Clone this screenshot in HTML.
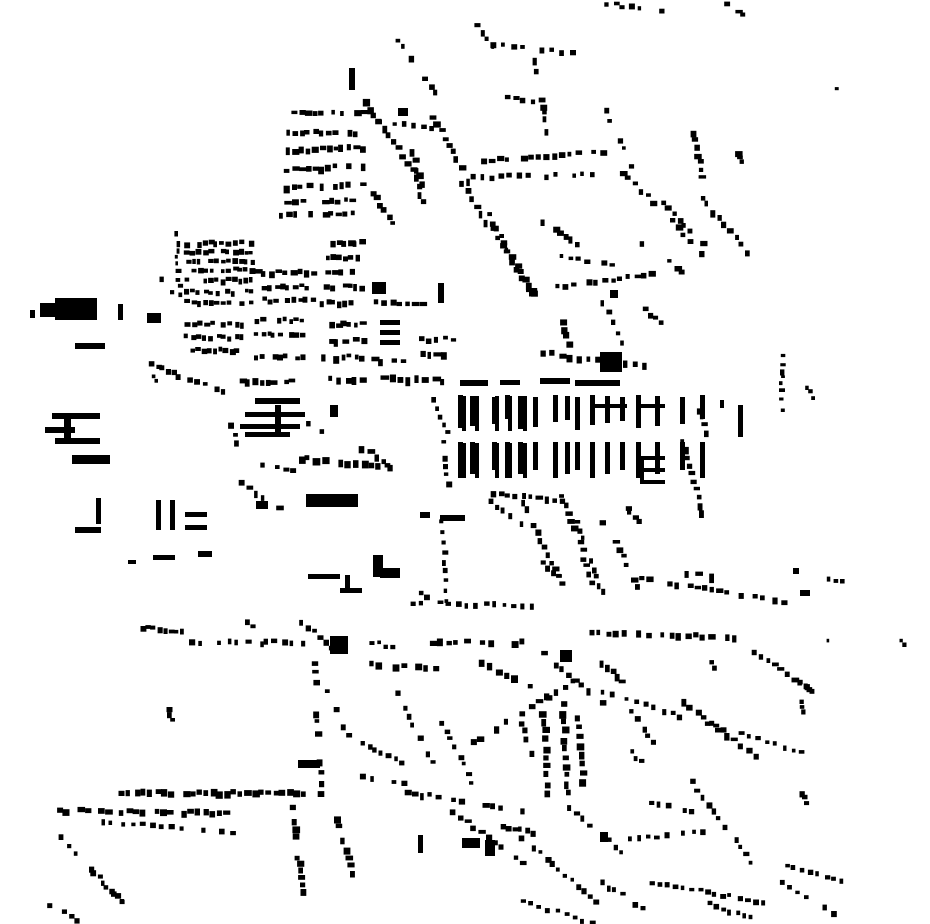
<!DOCTYPE html>
<html><head><meta charset="utf-8">
<style>html,body{margin:0;padding:0;background:#fff;}svg{display:block}</style>
</head><body>
<svg id="s" width="930" height="924" viewBox="0 0 930 924" xmlns="http://www.w3.org/2000/svg">
<g fill="#000">
<rect x="55" y="298" width="42" height="22"/><rect x="40" y="303" width="18" height="14"/><rect x="30" y="310" width="5" height="8"/>
<rect x="118" y="304" width="5" height="16"/><rect x="147" y="313" width="14" height="10"/>
<rect x="75" y="343" width="30" height="6"/>
<rect x="52" y="413" width="48" height="6"/><rect x="45" y="427" width="30" height="6"/><rect x="55" y="438" width="45" height="6"/><rect x="64" y="419" width="7" height="25"/>
<rect x="72" y="455" width="38" height="9"/>
<rect x="75" y="527" width="26" height="6"/><rect x="96" y="498" width="5" height="26"/>
<rect x="156" y="500" width="5" height="30"/><rect x="170" y="500" width="5" height="30"/><rect x="185" y="512" width="22" height="5"/><rect x="185" y="525" width="22" height="5"/>
<rect x="153" y="555" width="22" height="5"/><rect x="198" y="551" width="14" height="6"/><rect x="128" y="560" width="8" height="4"/>
<rect x="306" y="494" width="52" height="13"/>
<rect x="373" y="555" width="10" height="22"/><rect x="380" y="568" width="20" height="10"/>
<rect x="308" y="574" width="32" height="5"/><rect x="340" y="588" width="22" height="5"/><rect x="345" y="575" width="5" height="15"/>
<rect x="330" y="636" width="18" height="18"/>
<rect x="255" y="398" width="45" height="6"/><rect x="245" y="412" width="60" height="5"/><rect x="240" y="424" width="60" height="5"/><rect x="245" y="432" width="45" height="5"/><rect x="275" y="405" width="6" height="30"/>
<rect x="256" y="501" width="12" height="8"/><rect x="330" y="405" width="8" height="12"/>
<rect x="380" y="320" width="20" height="5"/><rect x="380" y="330" width="20" height="5"/><rect x="380" y="340" width="20" height="5"/>
<rect x="372" y="282" width="14" height="12"/><rect x="438" y="283" width="6" height="20"/>
<rect x="600" y="352" width="22" height="20"/>
<rect x="460" y="380" width="28" height="6"/><rect x="500" y="380" width="20" height="5"/><rect x="540" y="378" width="30" height="6"/><rect x="575" y="380" width="45" height="6"/>
<rect x="640" y="456" width="25" height="4"/><rect x="640" y="468" width="25" height="4"/><rect x="640" y="480" width="25" height="4"/><rect x="640" y="456" width="4" height="28"/>
<rect x="592" y="404" width="35" height="4"/><rect x="640" y="404" width="25" height="4"/>
<rect x="440" y="515" width="25" height="6"/><rect x="420" y="512" width="10" height="6"/>
<rect x="462" y="838" width="18" height="10"/><rect x="485" y="840" width="10" height="16"/>
<rect x="418" y="835" width="5" height="18"/>
<rect x="298" y="760" width="22" height="8"/>
<rect x="349" y="68" width="6" height="22"/><rect x="398" y="108" width="10" height="8"/>
<rect x="610" y="290" width="8" height="8"/><rect x="800" y="590" width="10" height="6"/><rect x="793" y="568" width="6" height="6"/>
<rect x="738" y="405" width="5" height="32"/><rect x="720" y="400" width="4" height="8"/>
<rect x="560" y="650" width="12" height="12"/><rect x="600" y="832" width="8" height="10"/>
</g>
<g id="g" fill="#000"></g>
</svg>
<script>
var seed=7;function r(){seed=(seed*16807)%2147483647;return seed/2147483647;}
var G=document.getElementById('g'),h='';
function rect(x,y,w,hh){h+='<rect x="'+x.toFixed(1)+'" y="'+y.toFixed(1)+'" width="'+w.toFixed(1)+'" height="'+hh.toFixed(1)+'"/>';}
var C=[
[470,18,490,42,8,3,5],[490,42,570,50,10,4,4],[605,2,660,8,8,4,4],[725,2,740,12,6,4,5],
[410,55,432,90,9,4,5],[430,115,530,290,8,5,4],[460,180,530,290,9,5,4],[530,50,545,130,7,5,4],
[495,95,530,100,8,4,4],[480,158,600,150,8,5,4],[470,175,590,172,9,4,4],[620,170,700,250,9,5,4],
[600,100,630,165,10,4,4],[690,130,700,175,8,5,4],[735,150,740,160,5,4,5],[700,195,745,250,9,5,4],
[660,200,700,240,8,5,4],[640,240,680,270,8,5,4],
[530,288,650,272,8,5,4],[535,215,580,245,7,5,4],[560,255,610,262,8,4,4],
[285,110,360,110,7,5,4],[285,130,360,130,7,5,4],[285,148,360,145,7,5,4],[285,168,360,163,7,5,4],[285,185,360,182,7,5,4],[285,200,350,198,7,5,4],[280,212,350,212,7,5,4],
[362,100,420,180,8,5,5],[375,120,430,125,9,4,4],[410,150,420,200,8,4,5],[370,190,390,220,8,5,4],
[185,241,250,241,6,4,4],[185,250,250,250,6,4,4],[185,259,250,259,6,4,4],[185,268,250,268,6,4,4],[185,278,250,278,6,4,4],[185,290,250,290,6,4,4],[185,300,250,300,6,4,4],
[175,232,178,300,8,3,4],[160,278,170,290,6,4,4],
[185,322,240,322,6,4,4],[185,335,240,335,6,4,4],[190,348,235,348,6,4,4],
[255,270,310,270,7,5,4],[262,285,310,285,6,4,4],[262,298,310,298,6,4,4],
[255,318,300,318,6,4,4],[255,332,300,332,6,4,4],[255,355,300,355,6,4,4],[240,378,290,380,6,4,5],
[325,240,360,240,6,5,4],[325,255,355,255,6,5,4],[325,270,355,270,6,5,4],[325,285,360,285,6,5,4],[320,300,360,300,6,5,4],
[322,322,360,322,6,4,5],[322,338,360,338,6,4,5],[322,355,360,355,6,4,5],[322,375,360,378,7,4,6],
[375,300,420,302,7,5,4],[418,337,460,337,8,4,4],[372,358,400,358,7,4,6],[380,375,440,378,9,4,6],[415,352,440,352,7,4,6],
[150,362,220,390,6,5,4],[152,375,160,380,5,4,4],
[290,455,400,465,8,5,5],[260,462,290,468,7,4,4],[240,480,275,505,9,5,4],[360,445,395,470,8,5,5],
[225,415,235,440,8,4,4],[305,420,320,430,8,4,4],
[440,440,445,480,8,4,4],[430,398,445,430,8,4,4],
[490,490,560,500,8,5,4],[520,500,555,575,8,5,4],[560,495,590,580,8,5,4],[575,520,600,590,8,4,4],[600,520,640,590,8,5,4],[490,500,520,520,8,4,4],
[440,520,445,598,10,4,4],[410,601,530,603,9,4,4],[540,560,560,580,8,4,4],
[640,575,780,600,7,4,5],[685,570,710,575,5,4,8],[820,575,840,580,6,4,4],[780,355,780,410,7,3,4],[805,385,812,395,5,3,3],
[540,350,650,365,9,4,6],[630,300,660,320,8,4,4],[600,300,620,340,10,4,4],[560,320,565,340,8,5,6],
[680,440,700,510,8,4,5],[695,400,705,430,8,4,5],[625,505,635,520,6,4,4],
[140,625,180,630,6,4,4],[190,640,300,640,9,4,4],[245,618,260,640,8,4,5],[300,620,330,645,8,4,4],
[430,640,520,640,8,5,5],[370,640,390,645,8,4,4],[590,630,740,635,8,4,5],[740,640,810,690,8,5,4],[708,655,712,665,5,4,4],[800,680,810,690,5,4,4],
[312,660,318,790,10,5,4],[360,662,432,665,8,5,6],[325,690,350,740,9,4,4],
[480,660,560,700,9,5,5],[540,650,600,700,9,5,4],[600,660,620,680,8,5,4],[470,740,570,680,10,5,4],
[540,710,545,790,9,5,5],[560,710,565,790,9,5,5],[575,715,580,780,9,5,5],[520,720,530,760,9,4,4],
[395,690,430,760,9,4,4],[440,720,470,780,10,4,4],[360,740,400,760,8,4,4],[330,770,400,780,8,4,4],
[600,690,800,750,9,4,4],[680,700,760,760,9,5,4],[630,710,650,740,8,4,4],[620,740,640,760,8,4,4],[800,700,802,710,5,4,4],[800,790,805,800,5,4,4],
[120,790,300,790,7,5,5],[50,808,230,810,7,5,5],[100,820,230,830,10,4,4],
[60,835,120,900,11,4,4],[90,870,120,900,8,4,4],[290,805,300,890,7,5,5],[330,800,350,870,8,5,5],
[405,790,520,808,8,5,4],[450,810,520,860,9,5,4],[500,825,530,830,6,5,4],
[520,835,600,905,8,4,4],[600,840,700,830,9,4,4],[560,800,620,850,9,4,4],[650,800,690,810,8,4,4],
[690,780,750,860,9,4,4],[650,880,760,900,8,4,4],[760,858,840,878,8,4,4],[780,880,830,910,9,4,4],[700,900,750,915,8,4,4],
[40,900,75,918,8,4,4],[520,900,590,920,9,4,4],[600,880,640,905,8,4,4],[420,590,430,600,6,4,4],
[828,640,832,645,5,3,3],[898,640,902,644,5,3,3],[835,88,838,92,5,3,3],[395,40,400,44,5,4,4],[165,708,170,718,6,4,4]
];
C.forEach(function(c){var dx=c[2]-c[0],dy=c[3]-c[1],L=Math.sqrt(dx*dx+dy*dy),n=Math.max(1,Math.round(L/c[4]));
for(var i=0;i<=n;i++){if(r()<0.15)continue;var t=i/n;var x=c[0]+dx*t+(r()-0.5)*3,y=c[1]+dy*t+(r()-0.5)*3;
var w=c[5]*(0.85+r()*0.7),hh=c[6]*(0.85+r()*0.7);if(r()<0.4){var tmp=w;w=hh;hh=tmp;}rect(x,y,w,hh);}});
var bx=[458,470,492,505,518,533,553,565,575,590,605,620,636,655,680,700];
bx.forEach(function(x,i){rect(x,395+(i%3),5,33-(i%4)*3);rect(x,442,5,36-(i%3)*4);});
[462,475,495,508,523].forEach(function(x){rect(x,443,4,35);rect(x,396,4,35);});
G.innerHTML=h;
</script>
</body></html>
